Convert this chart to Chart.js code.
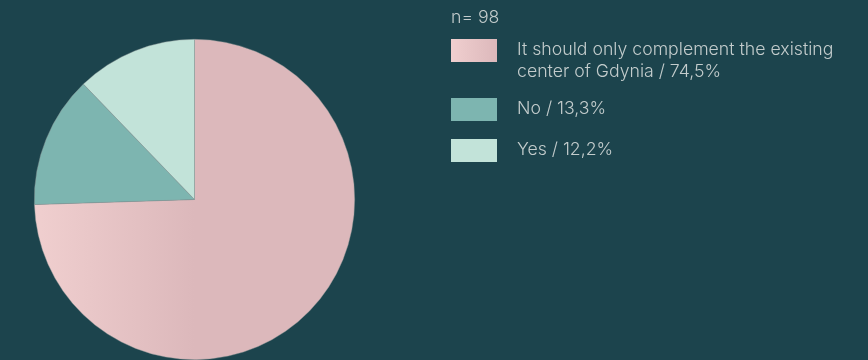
<!DOCTYPE html>
<html>
<head>
<meta charset="utf-8">
<script src="https://cdn.jsdelivr.net/npm/chart.js@4"></script>
<style>
  html, body { margin: 0; padding: 0; width: 868px; height: 360px; overflow: hidden; background: #1c444d; }
  #wrap { position: absolute; left: 0; top: 0; width: 868px; height: 360px; }
  #legend { position: absolute; left: 451px; top: 0; width: 410px; font-family: Inter, "Noto Sans", sans-serif; font-weight: 300; color: #c3cccc; font-size: 17.7px; }
  #legend .n { position: absolute; left: 0; top: 6px; white-space: nowrap; line-height: 22px; }
  #legend .item { position: absolute; left: 0; display: flex; align-items: flex-start; }
  #legend .box { width: 46px; height: 23px; flex: none; }
  #legend .txt { margin-left: 20px; line-height: 22px; margin-top: -1px; width: 340px; }
</style>
</head>
<body>
<div id="wrap"><canvas id="c" width="868" height="360"></canvas></div>
<div id="legend"></div>
<script>
// Survey answers and their shares (%)
const answers = ["It should only complement the existing center of Gdynia", "No", "Yes"];
const shares = [74.5, 13.3, 12.2];
const respondents = 98;
const sliceColors = ["#dcb8bb", "#7db5b0", "#c2e3d9"];
const gradientStart = "#f0cfcf";

function pinkFill(ctx) {
  const chart = ctx.chart;
  const area = chart.chartArea;
  if (!area) return sliceColors[0];
  const cx = (area.left + area.right) / 2;
  const g = chart.ctx.createLinearGradient(area.left, 0, cx, 0);
  g.addColorStop(0, gradientStart);
  g.addColorStop(1, sliceColors[0]);
  return g;
}

new Chart(document.getElementById("c"), {
  type: "pie",
  data: {
    labels: answers,
    datasets: [{
      data: shares,
      backgroundColor: (ctx) => ctx.dataIndex === 0 ? pinkFill(ctx) : sliceColors[ctx.dataIndex],
      borderColor: "rgba(140,150,150,0.7)",
      borderWidth: 0.6
    }]
  },
  options: {
    responsive: false,
    animation: false,
    layout: { padding: { left: 33, top: 39, right: 512, bottom: -1 } },
    plugins: { legend: { display: false }, tooltip: { enabled: false } }
  }
});

// Legend built from the same arrays
const legend = document.getElementById("legend");
const n = document.createElement("div");
n.className = "n";
n.textContent = "n= " + respondents;
legend.appendChild(n);
const tops = [39, 98, 139];
answers.forEach((a, i) => {
  const item = document.createElement("div");
  item.className = "item";
  item.style.top = tops[i] + "px";
  const box = document.createElement("div");
  box.className = "box";
  box.style.background = i === 0 ? `linear-gradient(to right, ${gradientStart}, ${sliceColors[0]})` : sliceColors[i];
  const txt = document.createElement("div");
  txt.className = "txt";
  txt.textContent = a + " / " + shares[i].toFixed(1).replace(".", ",") + "%";
  item.appendChild(box);
  item.appendChild(txt);
  legend.appendChild(item);
});
</script>
</body>
</html>
